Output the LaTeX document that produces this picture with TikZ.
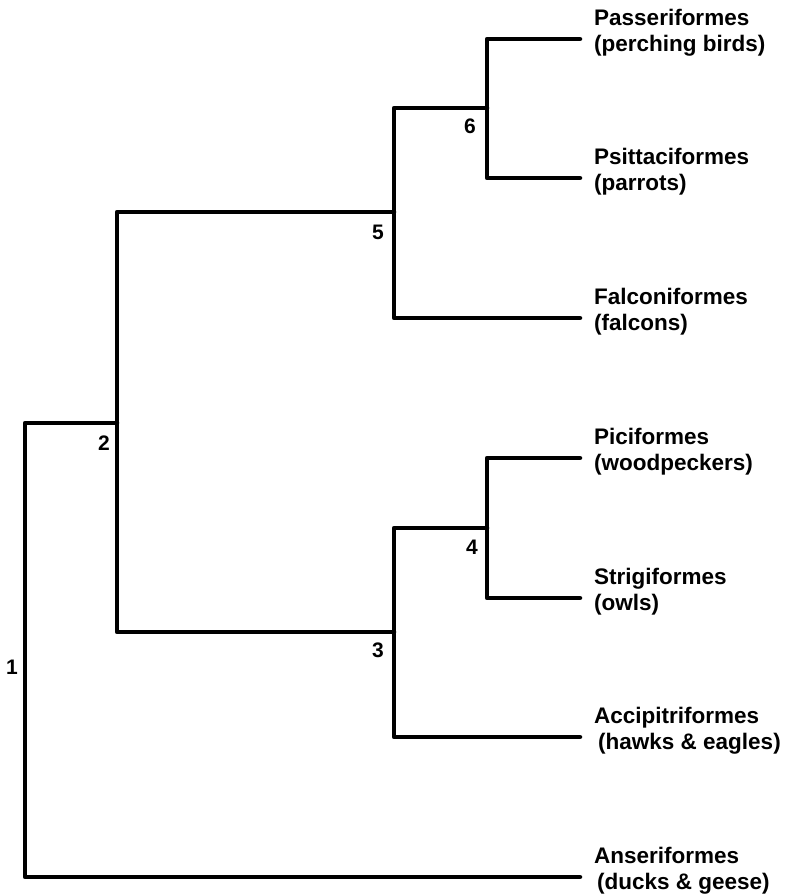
\documentclass[tikz,border=0pt]{standalone}
\usepackage{fontspec}
\setmainfont{Liberation Sans}
\usetikzlibrary{positioning}
\tikzset{
  branch/.style={line width=4.5pt, line cap=round, line join=round},
  leaflbl/.style={font=\bfseries\fontsize{22.5}{26}\selectfont, align=left, inner sep=0pt, yshift=6pt},
  cladenum/.style={font=\bfseries\fontsize{21}{24}\selectfont, inner sep=0pt}
}

\begin{document}
\begin{tikzpicture}[x=1pt, y=-1pt]
        \useasboundingbox (0,0) rectangle (786,895);
        % leaf ends
        \coordinate (pas) at (580,39);
        \coordinate (psi) at (580,178);
        \coordinate (fal) at (580,318);
        \coordinate (pic) at (580,458);
        \coordinate (str) at (580,598);
        \coordinate (acc) at (580,737);
        \coordinate (ans) at (580,877);
        % clade junctions
        \coordinate (n6) at (487,108);
        \coordinate (n5) at (394,212);
        \coordinate (n4) at (487,528);
        \coordinate (n3) at (394,632);
        \coordinate (n2) at (117,423);
        \coordinate (n1) at (25,650);
        % branches
        \draw[branch] (pas) -| (n6) |- (psi);
        \draw[branch] (n6) -| (n5) |- (fal);
        \draw[branch] (pic) -| (n4) |- (str);
        \draw[branch] (n4) -| (n3) |- (acc);
        \draw[branch] (n5) -| (n2) |- (n3);
        \draw[branch] (n2) -| (n1) |- (ans);
        % orders
        \node[leaflbl, right=14pt of pas] (tpas) {Passeriformes\\(perching birds)};
        \node[leaflbl, right=14pt of psi] (tpsi) {Psittaciformes\\(parrots)};
        \node[leaflbl, right=14pt of fal] (tfal) {Falconiformes\\(falcons)};
        \node[leaflbl, right=14pt of pic] (tpic) {Piciformes\\(woodpeckers)};
        \node[leaflbl, right=14pt of str] (tstr) {Strigiformes\\(owls)};
        \node[leaflbl, right=14pt of acc] (tacc) {Accipitriformes\\\hspace{4pt}(hawks \& eagles)};
        \node[leaflbl, right=14pt of ans] (tans) {Anseriformes\\\hspace{3pt}(ducks \& geese)};
        % clade numbers
        \node[cladenum] (c6) at (470,126) {6};
        \node[cladenum] (c5) at (378,232) {5};
        \node[cladenum] (c4) at (472,547) {4};
        \node[cladenum] (c3) at (378,650) {3};
        \node[cladenum] (c2) at (104,443) {2};
        \node[cladenum] (c1) at (12,667) {1};
\end{tikzpicture}
\end{document}
